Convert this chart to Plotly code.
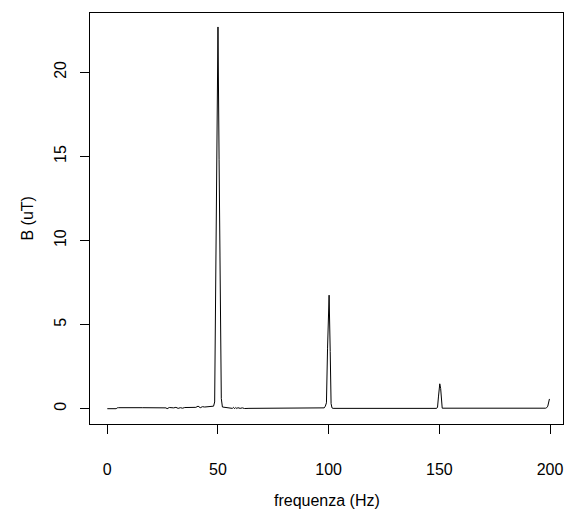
import plotly.graph_objects as go

# frequency (Hz) and magnetic field B (uT)
freq = [0, 4, 4.5, 5, 16, 16.5, 17, 17.5, 26, 26.5, 27, 28, 30, 31, 32, 33, 34, 35,
        40, 41, 42, 43, 44, 47, 48,
        48.5, 49, 49.5, 50, 50.5, 51, 51.5, 52,
        53, 56, 56.5, 57, 57.5, 58, 58.5, 59, 60, 61, 62, 64,
        97, 98, 98.5, 99, 99.5, 100.2, 100.7, 101.1, 101.5, 102,
        148.8, 149.2, 149.6, 150.2, 150.6, 150.9, 151.3,
        198, 198.5, 199, 199.5, 199.75]
B = [0.0, 0.0, 0.05, 0.06, 0.06, 0.06, 0.02, 0.06, 0.06, 0.05, 0.0, 0.07, 0.05, 0.08, 0.02, 0.06, 0.03, 0.07,
     0.08, 0.15, 0.06, 0.12, 0.1, 0.12, 0.15,
     0.4, 6.5, 14.5, 22.7, 14.8, 7.0, 0.6, 0.1,
     0.08, 0.05, 0.02, 0.08, 0.0, 0.07, 0.01, 0.06, 0.02, 0.05, 0.01, 0.02,
     0.02, 0.05, 0.15, 0.35, 3.6, 6.75, 3.4, 0.3, 0.05, 0.02,
     0.02, 0.1, 0.7, 1.48, 1.2, 0.3, 0.03,
     0.03, 0.06, 0.15, 0.36, 0.58]

x_ticks = [0, 50, 100, 150, 200]
y_ticks = [0, 5, 10, 15, 20]

FONT = "Liberation Sans, Arial, sans-serif"

fig = go.Figure()
fig.add_trace(go.Scatter(x=freq, y=B, mode="lines",
                         line=dict(color="black", width=1), showlegend=False,
                         hoverinfo="skip"))

fig.update_layout(
    width=568, height=513,
    margin=dict(l=90, r=5, t=13, b=89),
    paper_bgcolor="white", plot_bgcolor="white",
    font=dict(family=FONT, size=16, color="black"),
    xaxis=dict(range=[-7.82, 205.87], tickvals=x_ticks, ticktext=[str(v) for v in x_ticks],
               showgrid=False, zeroline=False, showline=True, linecolor="black", linewidth=1,
               mirror=True, ticks="outside", ticklen=9, tickcolor="black", tickwidth=1,
               ticklabelstandoff=22, tickfont=dict(size=16)),
    yaxis=dict(range=[-0.91, 23.53], tickvals=y_ticks, ticktext=[str(v) for v in y_ticks],
               showgrid=False, zeroline=False, showline=True, linecolor="black", linewidth=1,
               mirror=True, ticks="outside", ticklen=9, tickcolor="black", tickwidth=1,
               tickangle=-90, ticklabelstandoff=8, tickfont=dict(size=16)),
    annotations=[
        dict(text="frequenza (Hz)", xref="paper", yref="paper", x=0.5, y=(424 - 500) / 411,
             xanchor="center", yanchor="middle", showarrow=False, font=dict(size=16)),
        dict(text="B (uT)", xref="paper", yref="paper", x=(27 - 90) / 473, y=0.5,
             xanchor="center", yanchor="middle", showarrow=False, textangle=-90,
             font=dict(size=16)),
    ],
)

fig.write_html("out.html")
